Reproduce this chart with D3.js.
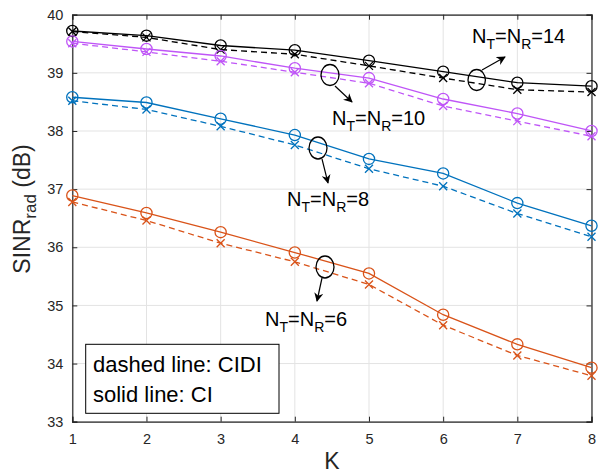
<!DOCTYPE html>
<html><head><meta charset="utf-8">
<script src="https://cdn.jsdelivr.net/npm/d3@7"></script>
<style>body{margin:0;background:#fff}svg{display:block}text{font-family:"Liberation Sans",Arial,sans-serif}</style>
</head><body>
<script>
const K = [1,2,3,4,5,6,7,8];
const yTicks = [33,34,35,36,37,38,39,40];
const ci14   = [39.72,39.64,39.47,39.39,39.21,39.02,38.83,38.77];
const cidi14 = [39.71,39.61,39.40,39.32,39.12,38.91,38.71,38.67];
const ci10   = [39.54,39.41,39.29,39.08,38.91,38.55,38.30,38.00];
const cidi10 = [39.51,39.36,39.20,39.01,38.82,38.43,38.17,37.91];
const ci8    = [38.58,38.49,38.21,37.93,37.52,37.27,36.76,36.37];
const cidi8  = [38.52,38.37,38.08,37.76,37.35,37.05,36.58,36.18];
const ci6    = [36.89,36.59,36.26,35.91,35.55,34.84,34.33,33.93];
const cidi6  = [36.78,36.46,36.07,35.75,35.36,34.66,34.14,33.79];
const colors = {n14:"#000000", n10:"#BF55F7", n8:"#0072BD", n6:"#D95319"};

const W=599,H=474;
const svg=d3.select("body").append("svg").attr("width",W).attr("height",H);
const x=d3.scaleLinear().domain([1,8]).range([72.3,591.5]);
const y=d3.scaleLinear().domain([33,40]).range([421.7,14.7]);

// grid
const g=svg.append("g");
g.selectAll(".vg").data(K).enter().append("line")
 .attr("x1",d=>x(d)).attr("x2",d=>x(d)).attr("y1",y(33)).attr("y2",y(40))
 .attr("stroke","#e3e3e3").attr("stroke-width",1);
g.selectAll(".hg").data(yTicks).enter().append("line")
 .attr("y1",d=>y(d)).attr("y2",d=>y(d)).attr("x1",x(1)).attr("x2",x(8))
 .attr("stroke","#e3e3e3").attr("stroke-width",1);

// axes
const axCol="#262626";
const xa=svg.append("g").attr("transform",`translate(0,${y(33)})`)
 .call(d3.axisBottom(x).tickValues(K).tickSize(-5).tickPadding(12).tickFormat(d3.format("d")));
const xt=svg.append("g").attr("transform",`translate(0,${y(40)})`)
 .call(d3.axisTop(x).tickValues(K).tickSize(-5).tickFormat(""));
const ya=svg.append("g").attr("transform",`translate(${x(1)},0)`)
 .call(d3.axisLeft(y).tickValues(yTicks).tickSize(-5).tickPadding(9).tickFormat(d3.format("d")));
const yr=svg.append("g").attr("transform",`translate(${x(8)},0)`)
 .call(d3.axisRight(y).tickValues(yTicks).tickSize(-5).tickFormat(""));
[xa,xt,ya,yr].forEach(a=>{
  a.select(".domain").attr("stroke",axCol).attr("stroke-width",1.2);
  a.selectAll(".tick line").attr("stroke",axCol);
  a.selectAll("text").attr("fill",axCol).style("font-size","14.5px").style("font-family",'"Liberation Sans",Arial,sans-serif');
});

// series
const series=[
 {c:colors.n14, ci:ci14, cidi:cidi14},
 {c:colors.n10, ci:ci10, cidi:cidi10},
 {c:colors.n8,  ci:ci8,  cidi:cidi8},
 {c:colors.n6,  ci:ci6,  cidi:cidi6}
];
const line=d3.line().x((d,i)=>x(K[i])).y(d=>y(d));
series.forEach(s=>{
  svg.append("path").datum(s.cidi).attr("d",line).attr("fill","none")
   .attr("stroke",s.c).attr("stroke-width",1.3).attr("stroke-dasharray","6,4");
  svg.append("path").datum(s.ci).attr("d",line).attr("fill","none")
   .attr("stroke",s.c).attr("stroke-width",1.3);
  s.cidi.forEach((v,i)=>{
    const cx=x(K[i]),cy=y(v),r=4;
    svg.append("path").attr("d",`M${cx-r},${cy-r}L${cx+r},${cy+r}M${cx-r},${cy+r}L${cx+r},${cy-r}`)
     .attr("stroke",s.c).attr("stroke-width",1.3);
  });
  s.ci.forEach((v,i)=>{
    svg.append("circle").attr("cx",x(K[i])).attr("cy",y(v)).attr("r",5.6)
     .attr("fill","none").attr("stroke",s.c).attr("stroke-width",1.3);
  });
});

// annotations
const defs=svg.append("defs");
defs.append("marker").attr("id","ah").attr("viewBox","0 0 10 10").attr("refX",9).attr("refY",5)
 .attr("markerWidth",9).attr("markerHeight",9).attr("orient","auto-start-reverse").attr("markerUnits","userSpaceOnUse")
 .append("path").attr("d","M0,0L10,5L0,10L3,5Z").attr("fill","#000");
const annots=[
 {ex:476.7,ey:80,rx:8.7,ry:10.5,a:[482,70,505,57],tx:472,ty:43,n:"14"},
 {ex:330,ey:75,rx:9,ry:10.5,a:[335,86,352,102],tx:332,ty:125,n:"10"},
 {ex:318,ey:148,rx:9,ry:11,a:[322,159,328,183],tx:287,ty:206,n:"8"},
 {ex:325,ey:267,rx:9,ry:11,a:[322,278,317,301],tx:265,ty:326,n:"6"}
];
annots.forEach(a=>{
  svg.append("ellipse").attr("cx",a.ex).attr("cy",a.ey).attr("rx",a.rx).attr("ry",a.ry)
   .attr("fill","none").attr("stroke","#000").attr("stroke-width",1.3);
  svg.append("line").attr("x1",a.a[0]).attr("y1",a.a[1]).attr("x2",a.a[2]).attr("y2",a.a[3])
   .attr("stroke","#000").attr("stroke-width",1.2).attr("marker-end","url(#ah)");
  const t=svg.append("text").attr("x",a.tx).attr("y",a.ty).style("font-size","20px").attr("fill","#000");
  t.append("tspan").text("N");
  t.append("tspan").attr("dy",6).style("font-size","14px").text("T");
  t.append("tspan").attr("dy",-6).text("=N");
  t.append("tspan").attr("dy",6).style("font-size","14px").text("R");
  t.append("tspan").attr("dy",-6).text("="+a.n);
});

// legend box
svg.append("rect").attr("x",85.7).attr("y",344.3).attr("width",193.3).attr("height",69)
 .attr("fill","#fff").attr("stroke","#000").attr("stroke-width",1);
svg.append("text").attr("x",93).attr("y",372).style("font-size","22px").text("dashed line: CIDI");
svg.append("text").attr("x",93).attr("y",401.5).style("font-size","22px").text("solid line: CI");

// axis labels
svg.append("text").attr("x",332).attr("y",469).attr("text-anchor","middle").style("font-size","23px").attr("fill",axCol).text("K");
const yl=svg.append("text").attr("transform","translate(30,209) rotate(-90)").attr("text-anchor","middle")
 .style("font-size","23px").attr("fill",axCol);
yl.append("tspan").text("SINR");
yl.append("tspan").attr("dy",6).style("font-size","17px").text("rad");
yl.append("tspan").attr("dy",-6).text(" (dB)");
</script>
</body></html>
